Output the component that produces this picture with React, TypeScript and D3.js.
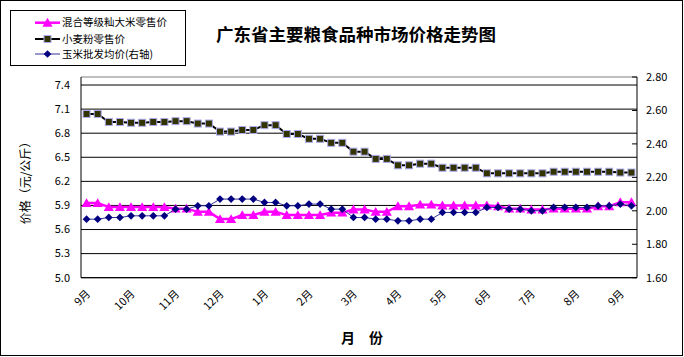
import React from 'react';
import * as d3 from 'd3';

const monthLabels = ['9月','10月','11月','12月','1月','2月','3月','4月','5月','6月','7月','8月','9月'];
const weekCount = 50;
const labelEvery = 4;

const riceRetail = [5.93,5.93,5.88,5.88,5.88,5.88,5.88,5.88,5.86,5.86,5.82,5.82,5.73,5.73,5.78,5.78,5.82,5.82,5.78,5.78,5.78,5.78,5.81,5.81,5.85,5.85,5.82,5.82,5.89,5.89,5.91,5.91,5.90,5.90,5.90,5.90,5.90,5.89,5.86,5.86,5.85,5.85,5.86,5.86,5.86,5.86,5.89,5.89,5.94,5.94];
const flourRetail = [7.04,7.04,6.94,6.94,6.93,6.93,6.94,6.94,6.95,6.95,6.92,6.92,6.82,6.82,6.84,6.84,6.90,6.90,6.79,6.79,6.73,6.73,6.68,6.68,6.57,6.57,6.48,6.48,6.40,6.40,6.42,6.42,6.37,6.37,6.37,6.37,6.30,6.30,6.30,6.30,6.30,6.30,6.32,6.32,6.32,6.32,6.32,6.32,6.31,6.31];
const cornWholesale = [1.95,1.95,1.96,1.96,1.97,1.97,1.97,1.97,2.01,2.01,2.03,2.03,2.07,2.07,2.07,2.07,2.05,2.05,2.03,2.03,2.04,2.04,2.01,2.01,1.96,1.96,1.95,1.95,1.94,1.94,1.95,1.95,1.99,1.99,1.99,1.99,2.02,2.02,2.01,2.01,2.00,2.00,2.02,2.02,2.02,2.02,2.03,2.03,2.04,2.03];

const leftTicks = [5.0,5.3,5.6,5.9,6.2,6.5,6.8,7.1,7.4];
const rightTicks = [1.6,1.8,2.0,2.2,2.4,2.6,2.8];
const seriesNames = ['混合等级籼大米零售价','小麦粉零售价','玉米批发均价(右轴)'];

const W = 684, H = 357;
const PL = 81, PR = 637, PT = 77, PB = 277.7;
const FONT = '"Noto Sans CJK SC", "DejaVu Sans", sans-serif';

export default function App() {
  const idx = d3.range(weekCount);
  const x = d3.scalePoint<number>().domain(idx).range([PL, PR]).padding(0.5);
  const yL = d3.scaleLinear().domain([5.0, 7.5]).range([PB, PT]);
  const yR = d3.scaleLinear().domain([1.6, 2.8]).range([PB, PT]);

  const lineL = d3.line<number>().x((_, i) => x(i)!).y(d => yL(d));
  const lineR = d3.line<number>().x((_, i) => x(i)!).y(d => yR(d));
  const tri = d3.symbol().type(d3.symbolTriangle).size(45)()!;
  const dia = d3.symbol().type(d3.symbolSquare).size(30)()!;

  const legendY = [22.7, 39, 54];

  return (
    <svg width={W} height={H} style={{ position: 'fixed', left: 0, top: 0, background: '#fff' }}>
      <rect x={0.5} y={0.5} width={W - 2} height={H - 2} fill="#fff" stroke="#000" />
      <text x={356} y={41} textAnchor="middle" fontFamily={FONT} fontSize={17.5} fontWeight="bold">广东省主要粮食品种市场价格走势图</text>

      {leftTicks.map(t => (
        <line key={'g' + t} x1={PL} x2={PR} y1={yL(t)} y2={yL(t)} stroke="#000" strokeWidth={1} />
      ))}
      <line x1={PL} x2={PR} y1={PT} y2={PT} stroke="#808080" />
      <line x1={PL} x2={PL} y1={PT} y2={PB} stroke="#000" />
      <line x1={PR} x2={PR} y1={PT} y2={PB} stroke="#000" />
      <line x1={PL} x2={PR} y1={PB} y2={PB} stroke="#000" />

      {leftTicks.map(t => (
        <text key={'l' + t} x={70} y={yL(t)} dy="0.35em" textAnchor="end" fontFamily={FONT} fontSize={11}>{t.toFixed(1)}</text>
      ))}
      {rightTicks.map(t => (
        <g key={'r' + t}>
          <line x1={PR - 5} x2={PR} y1={yR(t)} y2={yR(t)} stroke="#000" />
          <text x={646} y={yR(t)} dy="0.35em" textAnchor="start" fontFamily={FONT} fontSize={11}>{t.toFixed(2)}</text>
        </g>
      ))}

      {monthLabels.map((m, k) => {
        const xi = x(k * labelEvery)!;
        return (
          <text key={'m' + k} transform={`translate(${xi - 1},${289}) rotate(-45)`} textAnchor="end" dy="0.7em" fontFamily={FONT} fontSize={11}>{m}</text>
        );
      })}

      <text transform={`translate(30,180) rotate(-90)`} textAnchor="middle" fontFamily={FONT} fontSize={12}>价格（元/公斤）</text>
      <text x={362} y={343} textAnchor="middle" fontFamily={FONT} fontSize={14} fontWeight="bold">月　份</text>

      <path d={lineL(riceRetail)!} fill="none" stroke="#ff00ff" strokeWidth={2.5} />
      {riceRetail.map((v, i) => (
        <path key={'rt' + i} d={tri} transform={`translate(${x(i)},${yL(v) + 1})`} fill="#ff00ff" />
      ))}
      <path d={lineL(flourRetail)!} fill="none" stroke="#000" strokeWidth={2} />
      {flourRetail.map((v, i) => (
        <rect key={'fs' + i} x={x(i)! - 3.5} y={yL(v) - 3.5} width={7} height={7} fill="#333300" stroke="#aaaaee" strokeWidth={1} />
      ))}
      <path d={lineR(cornWholesale)!} fill="none" stroke="#333399" strokeWidth={1} />
      {cornWholesale.map((v, i) => (
        <path key={'cd' + i} d={dia} transform={`translate(${x(i)},${yR(v)}) rotate(45)`} fill="#000080" />
      ))}

      <rect x={10.5} y={10.5} width={175} height={55} fill="#fff" stroke="#000" />
      <line x1={35} x2={60} y1={legendY[0]} y2={legendY[0]} stroke="#ff00ff" strokeWidth={2.5} />
      <path d={tri} transform={`translate(47.5,${legendY[0] + 1})`} fill="#ff00ff" />
      <line x1={35} x2={60} y1={legendY[1]} y2={legendY[1]} stroke="#000" strokeWidth={2} />
      <rect x={44} y={legendY[1] - 3.5} width={7} height={7} fill="#333300" stroke="#aaaaee" />
      <line x1={35} x2={60} y1={legendY[2]} y2={legendY[2]} stroke="#333399" strokeWidth={1} />
      <path d={dia} transform={`translate(47.5,${legendY[2]}) rotate(45)`} fill="#000080" />
      {seriesNames.map((n, k) => (
        <text key={'ln' + k} x={62} y={legendY[k]} dy="0.35em" fontFamily={FONT} fontSize={10.5}>{n}</text>
      ))}
    </svg>
  );
}
